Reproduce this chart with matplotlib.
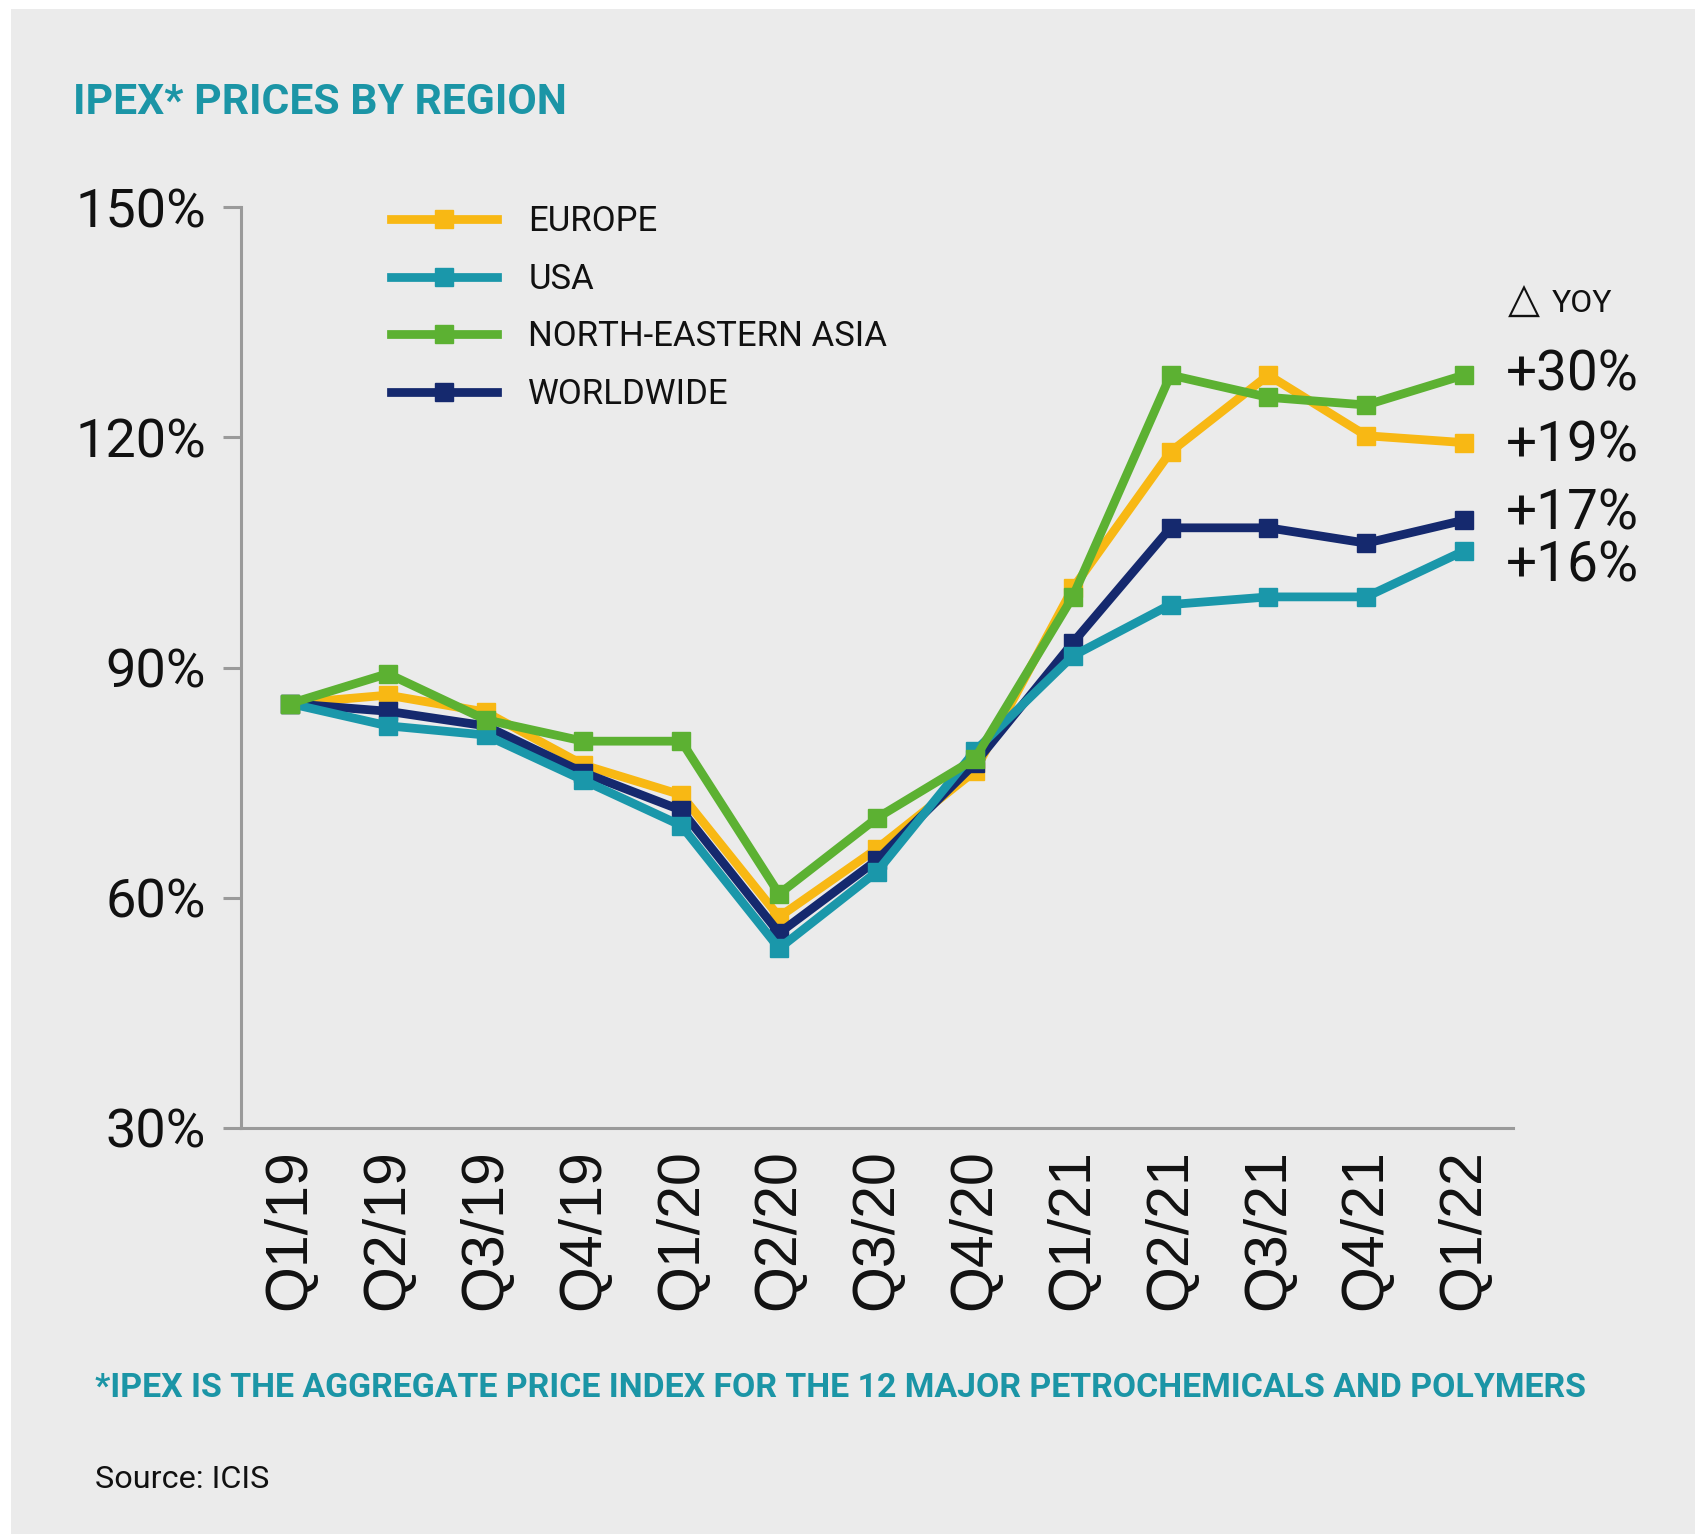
import matplotlib
matplotlib.use("Agg")
import matplotlib.pyplot as plt
from matplotlib.patches import Rectangle

quarters = ["Q1/19", "Q2/19", "Q3/19", "Q4/19", "Q1/20", "Q2/20", "Q3/20",
            "Q4/20", "Q1/21", "Q2/21", "Q3/21", "Q4/21", "Q1/22"]
europe = [85.3, 86.4, 84.2, 77.3, 73.4, 57.5, 66.4, 76.5, 100.3, 118.1, 128.1, 120.2, 119.3]
usa = [85.3, 82.4, 81.2, 75.3, 69.4, 53.4, 63.4, 79.1, 91.5, 98.2, 99.2, 99.2, 105.2]
ne_asia = [85.3, 89.2, 83.2, 80.4, 80.4, 60.5, 70.4, 78.1, 99.2, 128.1, 125.2, 124.2, 128.1]
worldwide = [85.3, 84.3, 82.4, 76.3, 71.4, 55.4, 64.9, 77.5, 93.2, 108.2, 108.2, 106.2, 109.2]
yticks = [30, 60, 90, 120, 150]
yoy_labels = ["+30%", "+19%", "+17%", "+16%"]

BG = "#ebebeb"
TEAL_TXT = "#1b95a6"
C_EU = "#f8b814"
C_US = "#1a97aa"
C_NEA = "#5cb132"
C_WW = "#15296e"
AXC = "#9a9a9a"

W, H = 1695, 1534
fig = plt.figure(figsize=(W / 100, H / 100), dpi=100, facecolor="white")
fig.patches.append(Rectangle((11 / W, 0), 1 - 11 / W, 1 - 9 / H, transform=fig.transFigure,
                             facecolor=BG, edgecolor="none", zorder=-10))

ax = fig.add_axes([241 / W, 1 - 1128 / H, (1513 - 241) / W, (1128 - 207) / H])
ax.set_facecolor("none")
ax.set_zorder(2)
x = list(range(len(quarters)))

series = [("EUROPE", europe, C_EU, 3), ("USA", usa, C_US, 4),
          ("NORTH-EASTERN ASIA", ne_asia, C_NEA, 5), ("WORLDWIDE", worldwide, C_WW, 3.5)]
handles = {}
for name, vals, col, z in series:
    h, = ax.plot(x, vals, color=col, lw=6.3, marker="s", ms=13.5, mec=col, mfc=col,
                 zorder=z, solid_joinstyle="miter", label=name, clip_on=False)
    handles[name] = h

ax.set_xlim(-0.5, 12.5)
ax.set_ylim(30, 150)
ax.set_yticks(yticks)
ax.set_yticklabels([f"{v}%" for v in yticks], fontfamily="Roboto", fontsize=39)
ax.set_xticks(x)
ax.set_xticklabels(quarters, rotation=90, fontfamily="Liberation Sans", fontsize=42.5)
for s in ["top", "right"]:
    ax.spines[s].set_visible(False)
for s in ["left", "bottom"]:
    ax.spines[s].set_color(AXC)
    ax.spines[s].set_linewidth(2.2)
ax.tick_params(axis="y", length=13, width=2.2, color=AXC, pad=12, labelcolor="#111111")
ax.tick_params(axis="x", length=0, pad=15, labelcolor="#111111")

leg = ax.legend([handles[n] for n in ["EUROPE", "USA", "NORTH-EASTERN ASIA", "WORLDWIDE"]],
                ["EUROPE", "USA", "NORTH-EASTERN ASIA", "WORLDWIDE"],
                loc="upper left", bbox_to_anchor=(391 / W, 1 - 205 / H),
                bbox_transform=fig.transFigure, frameon=False,
                prop={"family": "Roboto", "size": 25}, handlelength=3.05,
                handletextpad=0.9, labelspacing=0.71, borderaxespad=0, borderpad=0)
for t in leg.get_texts():
    t.set_color("#111111")

fig.text(73 / W, 1 - 103 / H, "IPEX* PRICES BY REGION", fontfamily="Roboto",
         fontweight="bold", fontsize=30.7, color=TEAL_TXT, va="center", ha="left")

fig.text(1508 / W, 1 - 301 / H, "\u25b3", family=["DejaVu Sans"], fontsize=30,
         color="#111111", va="center", ha="left")
fig.text(1552 / W, 1 - 303 / H, "YOY", fontfamily="Roboto", fontsize=23,
         color="#111111", va="center", ha="left")
for lab, ypx in zip(yoy_labels, [375, 446, 514, 566]):
    fig.text(1506 / W, 1 - ypx / H, lab, fontfamily="Roboto", fontsize=39.5,
             color="#111111", va="center", ha="left")

fig.text(95 / W, 1 - 1388 / H,
         "*IPEX IS THE AGGREGATE PRICE INDEX FOR THE 12 MAJOR PETROCHEMICALS AND POLYMERS",
         fontfamily="Roboto", fontweight="bold", fontsize=24.4, color=TEAL_TXT,
         va="center", ha="left")
fig.text(95 / W, 1 - 1480 / H, "Source: ICIS", fontfamily="Roboto", fontsize=23.3,
         color="#111111", va="center", ha="left")

fig.savefig("out.png", dpi=100, facecolor=fig.get_facecolor())
